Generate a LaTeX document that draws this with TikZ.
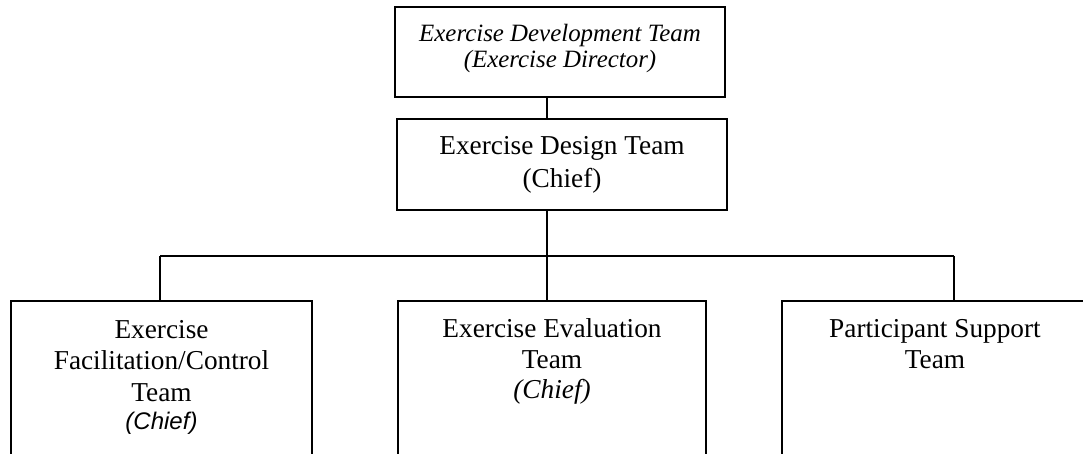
\documentclass[tikz,border=0pt]{standalone}
\usepackage{fontspec}
\setmainfont{Liberation Serif}
\setsansfont{Liberation Sans}
\usepackage{tikz}
\tikzstyle{team} = [rectangle, draw=black, line width=1.4pt, inner sep=0pt, align=center, anchor=base]
\tikzstyle{lower} = [team, font=\fontsize{27.3}{31.5}\selectfont]
\tikzstyle{link} = [draw, line width=1.2pt]

\begin{document}
\begin{tikzpicture}[x=1pt, y=-1pt]
   \useasboundingbox (0,0) rectangle (1083,454);
   % top two levels
   \node (dev) [team, minimum width=330pt, text height=61pt, text depth=29pt, font=\fontsize{24.9}{26.7}\selectfont\itshape] at (560,68) {Exercise Development Team\\(Exercise Director)};
   \node (design) [team, minimum width=330pt, text height=69pt, text depth=22pt, font=\fontsize{27.3}{33}\selectfont] at (562,188) {Exercise Design Team\\(Chief)};
   % bottom row
   \node (facil) [lower, minimum width=301pt, text height=128pt, text depth=26pt] at (161.5,429) {Exercise\\Facilitation/Control\\Team\\[-3.5pt]{\fontsize{24}{28}\selectfont\sffamily\itshape (Chief)}};
   \node (eval) [lower, minimum width=308pt, text height=97pt, text depth=57pt] at (552,398) {Exercise Evaluation\\Team\\[-2pt]\itshape (Chief)};
   \node (support) [lower, minimum width=306pt, text height=67.5pt, text depth=86.5pt] at (935,368.5) {Participant Support\\Team};
   \coordinate (trunk) at (547,256);
   \coordinate (bl) at (160,256);
   \coordinate (br) at (954,256);
   \path [link] (dev.south -| trunk) -- (design.north -| trunk);
   \path [link] (design.south -| trunk) -- (trunk);
   \path [link] (bl) -- (br);
   \path [link] (bl) -- (facil.north -| bl);
   \path [link] (trunk) -- (eval.north -| trunk);
   \path [link] (br) -- (support.north -| br);
\end{tikzpicture}
\end{document}
